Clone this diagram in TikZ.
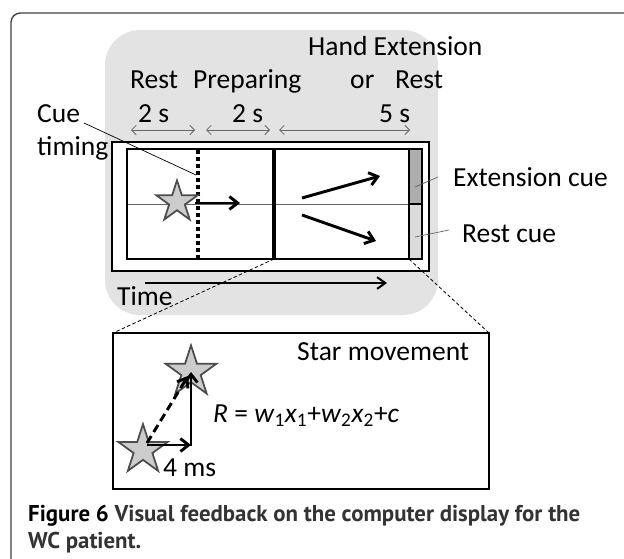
\documentclass[tikz,border=0pt]{standalone}
\usepackage{fontspec}
\setmainfont{Carlito}
\newfontfamily\capfont{PT Sans}
\usepackage{tikz}
\usetikzlibrary{arrows.meta,shapes.geometric}

\tikzset{
  lbl/.style={anchor=base west, inner sep=0pt, font=\fontsize{23.5}{27}\selectfont},
  capt/.style={anchor=base west, inner sep=0pt, font=\capfont\bfseries\fontsize{19.5}{23}\selectfont, text=black!80},
  span/.style={draw=black!60, line width=0.7pt, {Straight Barb[length=4pt,width=8pt]}-{Straight Barb[length=4pt,width=8pt]}},
  mover/.style={line width=2.5pt, -{Straight Barb[length=7pt,width=11pt]}},
  starmark/.style={star, star points=5, star point ratio=2.618, draw=black!70, fill=black!20, line width=1.5pt, inner sep=0pt},
  leader/.style={draw=black!60, line width=0.6pt},
  zoomline/.style={line width=0.7pt, dash pattern=on 3pt off 2pt}
}

\begin{document}
\begin{tikzpicture}[x=0.03cm, y=-0.03cm]

\useasboundingbox (0,0) rectangle (624,558);
\clip (0,0) rectangle (624,558);

% page frame, cut off at right and bottom
\draw[line width=1.2pt, black!75, rounded corners=8pt] (11,13) rectangle (700,640);

% gray area behind the display
\fill[black!11, rounded corners=30pt] (105,30) rectangle (438,315);

% phase labels
\node[lbl] (hand) at (308,55) {Hand Extension};
\node[lbl] (rest) at (130,88) {Rest};
\node[lbl] (prep) at (193,88) {Preparing};
\node[lbl] (or) at (350,88) {or};
\node[lbl] (rest2) at (395,88) {Rest};

% durations
\node[lbl] (d1) at (138,122) {2 s};
\node[lbl] (d2) at (232,122) {2 s};
\node[lbl] (d3) at (379,122) {5 s};
\draw[span] (131,130) -- (195,130);
\draw[span] (206,130) -- (270,130);
\draw[span] (279,130) -- (410,130);

% the display
\draw[line width=1.3pt, fill=white] (112,142) rectangle (429,271);
\draw[black!60, line width=0.6pt] (127,204) -- (409,204);

% cue bar
\filldraw[fill=black!32, line width=1.6pt] (409,149) rectangle (422,204);
\filldraw[fill=black!14, line width=1.6pt] (409,204) rectangle (422,259);
\draw[line width=1.3pt] (127,149) rectangle (422,259);

% cue timing (dotted) and start of movement (solid)
\draw[line width=3pt, dash pattern=on 3pt off 3pt] (198,150) -- (198,259);
\draw[line width=2.6pt] (274,149) -- (274,260);
\coordinate (split) at (274,259);
\coordinate (barfoot) at (409,259);

% star and its movement
\node[starmark, minimum size=1.3cm] (s0) at (177,202) {};
\draw[mover] (195,203) -- (240,203);
\draw[mover] (302,198) -- (380,176);
\draw[mover] (302,215) -- (376,241);

% labels beside the display
\node[lbl] (cue) at (37,122) {Cue};
\node[lbl] (timing) at (37,155) {timing};
\coordinate (cuept) at (196,175);
\draw[line width=0.6pt] (84,123) -- (cuept);

\node[lbl] (ext) at (453,186) {Extension cue};
\node[lbl] (rc) at (462,242) {Rest cue};
\draw[leader] (415,187) -- (438,177);
\draw[leader] (415,237) -- (449,230);

% time axis
\draw[line width=1.7pt, -{Straight Barb[length=7pt,width=10pt]}] (145,283) -- (387,283);
\node[lbl] (time) at (117,305) {Time};

% close-up of the movement
\coordinate (boxnw) at (113,333);
\coordinate (boxne) at (489,333);
\draw[zoomline] (split) -- (boxnw);
\draw[zoomline] (barfoot) -- (boxne);
\draw[line width=1.3pt, fill=white] (boxnw) rectangle (489,489);

\node[lbl] (title) at (297,360) {Star movement};
\node[starmark, minimum size=1.6cm] (sB) at (191,372) {};
\node[starmark, minimum size=1.55cm] (sA) at (143,450) {};
\draw[mover] (147,445) -- (191,445);
\draw[mover] (191,446) -- (191,372);
\draw[mover, dash pattern=on 7pt off 4pt] (147,443) -- (188,376);
\node[lbl] (eq) at (213,422) {\textit{R} = \textit{w}\textsubscript{1}\textit{x}\textsubscript{1}+\textit{w}\textsubscript{2}\textit{x}\textsubscript{2}+\textit{c}};
\node[lbl] (ms) at (163,476) {4 ms};

% caption
\node[capt] (cap1) at (28,521) {\textcolor{black}{Figure 6} Visual feedback on the computer display for the};
\node[capt] (cap2) at (28,548) {WC patient.};

\end{tikzpicture}
\end{document}
